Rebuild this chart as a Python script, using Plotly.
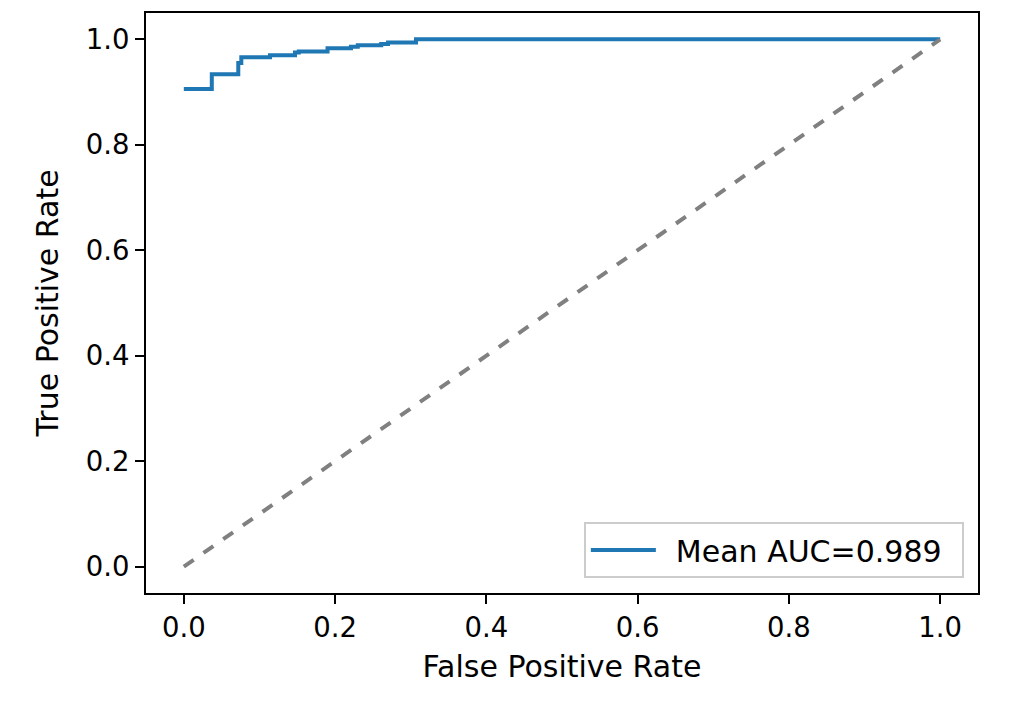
import plotly.graph_objects as go

# ROC curve (step) values
fpr = [0.0, 0.037, 0.037, 0.072, 0.072, 0.076, 0.076, 0.114, 0.114, 0.147, 0.147, 0.152, 0.152,
       0.190, 0.190, 0.221, 0.221, 0.230, 0.230, 0.261, 0.261, 0.270, 0.270, 0.307, 0.307, 1.0]
tpr = [0.906, 0.906, 0.934, 0.934, 0.955, 0.955, 0.966, 0.966, 0.970, 0.970, 0.975, 0.975, 0.977,
       0.977, 0.983, 0.983, 0.986, 0.986, 0.989, 0.989, 0.991, 0.991, 0.994, 0.994, 1.0, 1.0]
diag_x = [0.0, 1.0]
diag_y = [0.0, 1.0]
legend_label = "Mean AUC=0.989"
tick_vals = [0.0, 0.2, 0.4, 0.6, 0.8, 1.0]
tick_text = ["0.0", "0.2", "0.4", "0.6", "0.8", "1.0"]

fig = go.Figure()
fig.add_trace(go.Scatter(x=fpr, y=tpr, mode="lines", name="\u2002" + legend_label + "\u2002",
                         line=dict(color="#1f77b4", width=4)))
fig.add_trace(go.Scatter(x=diag_x, y=diag_y, mode="lines", showlegend=False,
                         line=dict(color="gray", width=4, dash="dash")))

tick_font = dict(family="DejaVu Sans", size=27.5, color="black")
text_font = dict(family="DejaVu Sans", size=30, color="black")
axis_common = dict(range=[-0.05, 1.05], tickvals=tick_vals, ticktext=tick_text,
                   showgrid=False, zeroline=False, showline=True, mirror=True,
                   linecolor="black", linewidth=2.2, ticks="outside", ticklen=9,
                   tickwidth=2.2, tickcolor="black", tickfont=tick_font)

fig.update_layout(
    width=1011, height=721,
    paper_bgcolor="white", plot_bgcolor="white",
    margin=dict(l=138, r=41, t=3, b=136),
    font=tick_font,
    xaxis=dict(title=dict(text="False Positive Rate", font=text_font, standoff=14), **axis_common),
    yaxis=dict(title=dict(text="True Positive Rate", font=text_font, standoff=18), **axis_common),
    legend=dict(x=0.983, y=0.026, xanchor="right", yanchor="bottom",
                bordercolor="#cccccc", borderwidth=2, bgcolor="rgba(255,255,255,0.8)",
                font=text_font, itemwidth=65),
)

fig.write_html("out.html")
